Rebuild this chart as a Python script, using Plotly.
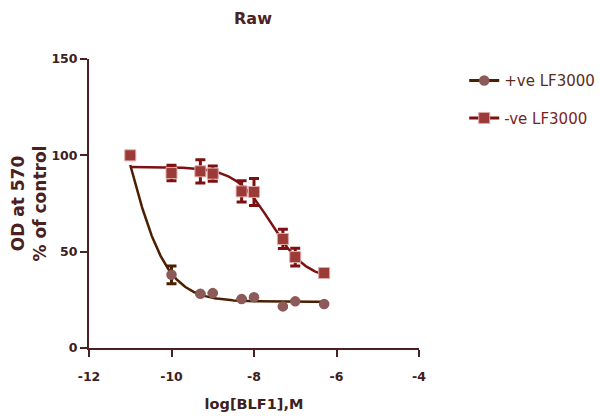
import numpy as np
import plotly.graph_objects as go

# ---- data ----
log_conc = [-11.0, -10.0, -9.3, -9.0, -8.3, -8.0, -7.3, -7.0, -6.3]

pos_mean = [100.0, 38.0, 28.2, 28.5, 25.4, 26.3, 21.6, 24.2, 22.8]
pos_err = [0.0, 4.6, 0.0, 0.0, 0.0, 0.0, 0.0, 0.0, 0.0]

neg_mean = [100.0, 90.8, 91.7, 90.5, 81.3, 81.0, 56.6, 47.2, 38.9]
neg_err = [0.0, 4.0, 6.0, 4.0, 5.5, 7.0, 5.0, 4.6, 0.0]

# fitted dose-response (log(inhibitor) vs response, variable slope) parameters
pos_fit = dict(bottom=24.0, top=182.3, logic50=-11.1, hill=0.9)
neg_fit = dict(bottom=35.0, top=94.0, logic50=-7.58, hill=1.0)

series_names = ["+ve LF3000", "-ve LF3000"]
x_ticks = [-12, -10, -8, -6, -4]
y_ticks = [0, 50, 100, 150]


def curve(p, x):
    return p["bottom"] + (p["top"] - p["bottom"]) / (1 + 10 ** (p["hill"] * (x - p["logic50"])))


xfit = np.linspace(min(log_conc), max(log_conc), 200)

POS_LINE = "#4b1f00"
POS_MARK = "#8c5a58"
POS_TEXT = "#5a2d1a"
NEG_LINE = "#7b1111"
NEG_MARK = "#9c3a37"
NEG_TEXT = "#7a1f1f"
AXIS = "#4a2020"
FONT = "DejaVu Sans"

fig = go.Figure()

fig.add_trace(go.Scatter(x=xfit, y=curve(pos_fit, xfit), mode="lines",
                         line=dict(color=POS_LINE, width=2.5), showlegend=False,
                         hoverinfo="skip"))
fig.add_trace(go.Scatter(x=xfit, y=curve(neg_fit, xfit), mode="lines",
                         line=dict(color=NEG_LINE, width=2.5), showlegend=False,
                         hoverinfo="skip"))

fig.add_trace(go.Scatter(
    x=log_conc, y=pos_mean, mode="markers", name=series_names[0], showlegend=False,
    marker=dict(symbol="circle", size=10.5, color=POS_MARK, line=dict(width=0)),
    error_y=dict(type="data", array=pos_err, color=POS_LINE, thickness=3, width=5),
    cliponaxis=False))

fig.add_trace(go.Scatter(
    x=log_conc, y=neg_mean, mode="markers", name=series_names[1], showlegend=False,
    marker=dict(symbol="square", size=11, color=NEG_MARK, line=dict(width=1, color="#e0a8a8")),
    error_y=dict(type="data", array=neg_err, color=NEG_LINE, thickness=3, width=5),
    cliponaxis=False))

# legend entries showing line + marker
fig.add_trace(go.Scatter(x=[None], y=[None], mode="lines+markers",
                         name=f"<span style='color:{POS_TEXT}'>{series_names[0]}</span>",
                         line=dict(color=POS_LINE, width=3),
                         marker=dict(symbol="circle", size=10.5, color=POS_MARK),
                         legendgroup="a"))
fig.add_trace(go.Scatter(x=[None], y=[None], mode="lines+markers",
                         name=f"<span style='color:{NEG_TEXT}'>{series_names[1]}</span>",
                         line=dict(color=NEG_LINE, width=3),
                         marker=dict(symbol="square", size=11, color=NEG_MARK,
                                     line=dict(width=1, color="#e0a8a8")),
                         legendgroup="b"))

fig.update_layout(
    width=600, height=419,
    margin=dict(l=89, r=181, t=59, b=71, autoexpand=False),
    paper_bgcolor="white", plot_bgcolor="white",
    title=dict(text="<b>Raw</b>", x=253 / 600, xanchor="center",
               y=1 - 18 / 419, yanchor="middle",
               font=dict(family=FONT, size=16, color="#4d2222")),
    font=dict(family=FONT, color=AXIS),
    legend=dict(x=1.137, y=0.982, xanchor="left", yanchor="top",
                traceorder="grouped", tracegroupgap=15,
                font=dict(family=FONT, size=15, color=POS_TEXT),
                bgcolor="rgba(0,0,0,0)"),
    xaxis=dict(range=[-12, -4], tickvals=x_ticks, ticktext=[str(v) for v in x_ticks],
               showgrid=False, zeroline=False, showline=True, linecolor=AXIS, linewidth=2,
               ticks="outside", ticklen=7, tickwidth=2, tickcolor=AXIS,
               ticklabelstandoff=9,
               tickfont=dict(family=FONT, size=12.5, color="#3d2020", weight="bold"),
               title=dict(text="<b>log[BLF1],M</b>", standoff=16,
                          font=dict(family=FONT, size=14.5, color="#3d2020"))),
    yaxis=dict(range=[0, 150], tickvals=y_ticks, ticktext=[str(v) for v in y_ticks],
               showgrid=False, zeroline=False, showline=True, linecolor=AXIS, linewidth=2,
               ticks="outside", ticklen=7, tickwidth=2, tickcolor=AXIS,
               tickfont=dict(family=FONT, size=12.5, color="#3d2020", weight="bold"),
               title=dict(text="<b>OD at 570<br>% of control</b>", standoff=0,
                          font=dict(family=FONT, size=17, color="#4a2020"))),
)

fig.write_html("out.html")
